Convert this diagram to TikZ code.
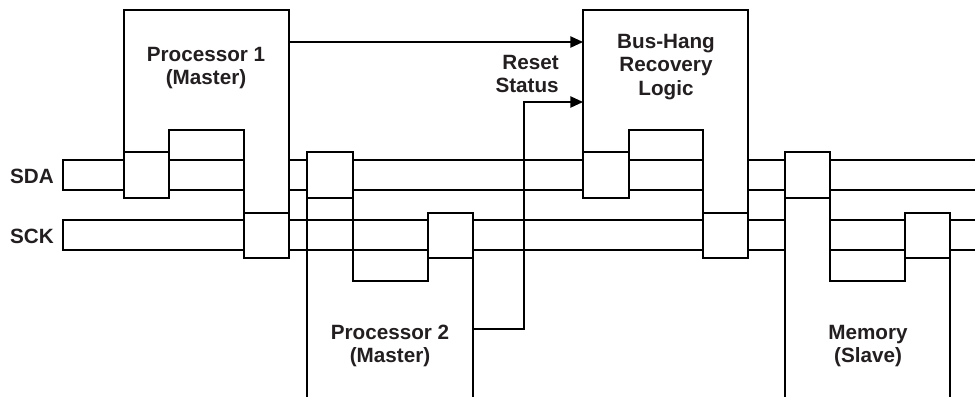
\documentclass[tikz,border=0pt]{standalone}
\usepackage{fontspec}
\setmainfont{Liberation Sans}
\usetikzlibrary{arrows.meta}
\definecolor{inkgray}{RGB}{35,31,32}
\begin{document}
\begin{tikzpicture}[x=0.75pt, y=-0.75pt,
  every node/.style={font=\fontsize{15.5pt}{17.8pt}\selectfont\bfseries, text=inkgray, align=center, inner sep=0pt},
  wire/.style={line width=1pt, black},
  tap/.style={line width=1.5pt, black},
  sig/.style={line width=1pt, black, -{Triangle[length=9.5pt, width=8.5pt]}}]
    \useasboundingbox (0,0) rectangle (975,397);
    \node (sda) [anchor=east] at (54,176) {SDA};
    \node (sck) [anchor=east] at (54,236) {SCK};
    \node (proc1) at (206,68) {Processor 1\\(Master)};
    \node (proc2) at (390,346) {Processor 2\\(Master)};
    \node (bhr) at (666,67) {Bus-Hang\\Recovery\\Logic};
    \node (mem) at (868,346) {Memory\\(Slave)};
    \node (rst) [anchor=east, align=right] at (559,74) {Reset\\Status};
    \coordinate (p1out) at (289,42);
    \coordinate (bhin1) at (583,42);
    \coordinate (p2out) at (473,329);
    \coordinate (rstup) at (524,102);
    \coordinate (bhin2) at (583,102);
    \draw[wire] (124,160) -- (63,160) -- (63,190) -- (124,190);
    \draw[wire] (244,220) -- (63,220) -- (63,250) -- (244,250);
    \draw[wire] (169,160) -- (244,160) (169,190) -- (244,190);
    \draw[wire] (289,160) -- (307,160) (289,190) -- (307,190);
    \draw[wire] (353,160) -- (583,160) (353,190) -- (583,190);
    \draw[wire] (629,160) -- (703,160) (629,190) -- (703,190);
    \draw[wire] (748,160) -- (785,160) (748,190) -- (785,190);
    \draw[wire] (830,160) -- (975,160) (830,190) -- (975,190);
    \draw[wire] (289,220) -- (428,220) (289,250) -- (428,250);
    \draw[wire] (473,220) -- (703,220) (473,250) -- (703,250);
    \draw[wire] (748,220) -- (785,220) (748,250) -- (785,250);
    \draw[wire] (830,220) -- (905,220) (830,250) -- (905,250);
    \draw[wire] (950,220) -- (975,220) (950,250) -- (975,250);
    \draw[wire] (124,152) -- (124,10) -- (289,10) -- (289,213);
    \draw[wire] (169,152) -- (169,130) -- (244,130) -- (244,213);
    \draw[wire] (583,152) -- (583,10) -- (748,10) -- (748,213);
    \draw[wire] (629,152) -- (629,130) -- (703,130) -- (703,213);
    \draw[wire] (307,198) -- (307,397) (473,258) -- (473,397);
    \draw[wire] (353,198) -- (353,281) -- (428,281) -- (428,258);
    \draw[wire] (785,198) -- (785,397) (950,258) -- (950,397);
    \draw[wire] (830,198) -- (830,281) -- (905,281) -- (905,258);
    \draw[tap] (124,152) rectangle (169,198);
    \draw[tap] (307,152) rectangle (353,198);
    \draw[tap] (583,152) rectangle (629,198);
    \draw[tap] (785,152) rectangle (830,198);
    \draw[tap] (244,213) rectangle (289,258);
    \draw[tap] (428,213) rectangle (473,258);
    \draw[tap] (703,213) rectangle (748,258);
    \draw[tap] (905,213) rectangle (950,258);
    \draw[sig] (p1out) -- (bhin1);
    \draw[sig] (p2out) -| (rstup) -- (bhin2);
\end{tikzpicture}
\end{document}
